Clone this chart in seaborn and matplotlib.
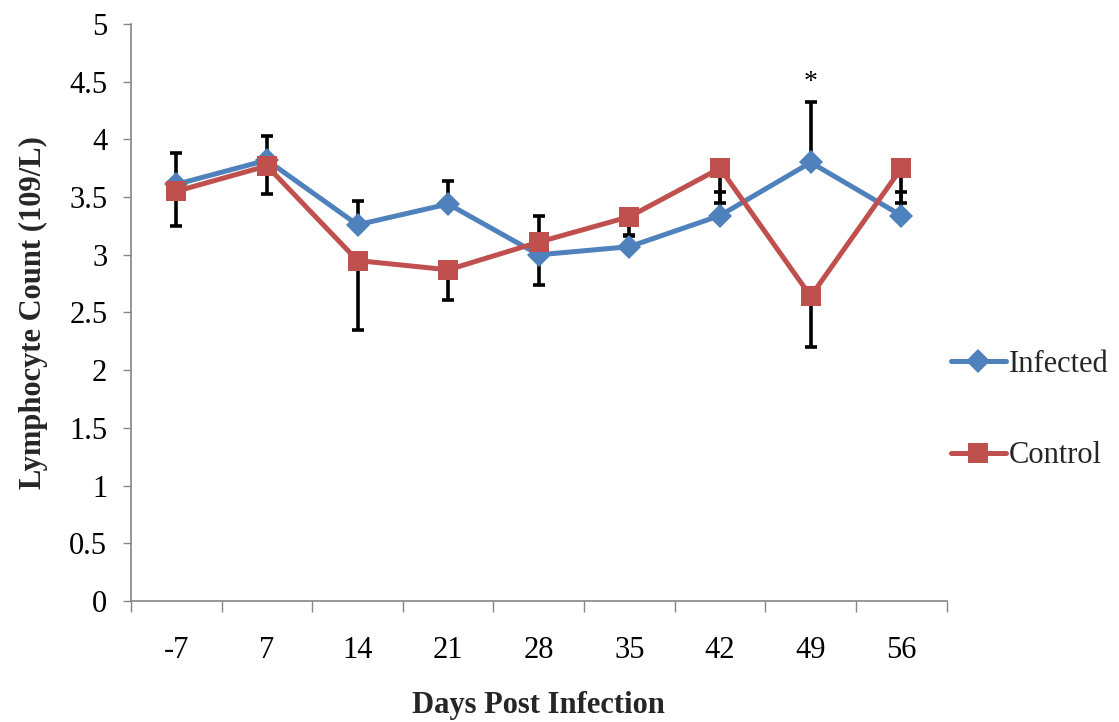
import matplotlib
matplotlib.use("Agg")
import matplotlib.pyplot as plt
import seaborn as sns
import pandas as pd
import numpy as np

days = ["-7", "7", "14", "21", "28", "35", "42", "49", "56"]
infected = [3.61, 3.82, 3.26, 3.44, 3.00, 3.07, 3.34, 3.80, 3.34]
control = [3.55, 3.77, 2.95, 2.87, 3.11, 3.33, 3.75, 2.64, 3.75]
infected_err_plus = [0.27, 0.21, 0.21, 0.20, 0.34, 0.10, 0.20, 0.52, 0.20]
control_err_minus = [0.30, 0.24, 0.60, 0.26, 0.37, 0.17, 0.30, 0.44, 0.30]
sig_days = ["49"]

sns.set_theme(style="white")
plt.rcParams['font.family'] = ['Liberation Serif', 'DejaVu Serif']

blue = "#4F81BD"
red = "#C0504D"
FS = 22

x_idx = np.arange(len(days))
df = pd.DataFrame({
    "x": np.concatenate([x_idx, x_idx]),
    "value": infected + control,
    "series": ["Infected"] * len(days) + ["Control"] * len(days),
})

fig = plt.figure(figsize=(11.19, 7.22), dpi=100)
ax = fig.add_axes([0.117, 0.1676, 0.729, 0.7992])

# error bars (behind lines)
ax.errorbar(x_idx, infected, yerr=[np.zeros(len(days)), infected_err_plus],
            fmt="none", ecolor="black", elinewidth=2.6, capsize=4.5, capthick=2.6, zorder=1)
ax.errorbar(x_idx, control, yerr=[control_err_minus, np.zeros(len(days))],
            fmt="none", ecolor="black", elinewidth=2.6, capsize=4.5, capthick=2.6, zorder=1)

sns.lineplot(data=df, x="x", y="value", hue="series", style="series",
             hue_order=["Infected", "Control"], style_order=["Infected", "Control"],
             palette={"Infected": blue, "Control": red},
             markers={"Infected": "D", "Control": "s"}, dashes=False,
             linewidth=3.6, markersize=12, markeredgewidth=0, sort=False,
             ax=ax, zorder=3)
for line in ax.get_lines():
    if line.get_marker() == "s":
        line.set_markersize(14.5)

for d in sig_days:
    i = days.index(d)
    ax.text(i, infected[i] + infected_err_plus[i] + 0.17, "*", ha="center", va="center",
            fontsize=20, color="black")

ax.set_xlim(-0.5, len(days) - 0.5)
ax.set_ylim(0, 5)
ax.set_yticks(np.arange(0, 5.01, 0.5))
ax.set_yticklabels(["0", "0.5", "1", "1.5", "2", "2.5", "3", "3.5", "4", "4.5", "5"])
ax.set_xticks(x_idx)
ax.set_xticklabels(days)
ax.set_xticks(np.arange(-0.5, len(days), 1.0), minor=True)
ax.tick_params(axis="x", which="major", length=0, pad=25, labelsize=FS, colors="black")
ax.tick_params(axis="x", which="minor", length=8, width=1, color="#868686", direction="out", bottom=True)
ax.tick_params(axis="y", which="major", length=6, width=1, color="#868686", direction="out",
               left=True, pad=11, labelsize=FS, colors="black")
for lab in ax.get_yticklabels():
    lab.set_color("black")

for s in ["top", "right"]:
    ax.spines[s].set_visible(False)
for s in ["left", "bottom"]:
    ax.spines[s].set_color("#868686")
    ax.spines[s].set_linewidth(1.2)

ax.set_xlabel("Days Post Infection", fontsize=FS, fontweight="bold", labelpad=19)
ax.set_ylabel("Lymphocyte Count (109/L)", fontsize=FS, fontweight="bold", labelpad=15)

handles, labels = ax.get_legend_handles_labels()
leg = ax.legend(handles, labels, loc="center left", bbox_to_anchor=(0.836, 0.432),
                bbox_transform=fig.transFigure, frameon=False, fontsize=FS,
                handlelength=1.8, handletextpad=0.1, labelspacing=2.05, borderpad=0)
for h in leg.legend_handles:
    h.set_linewidth(3.6)

fig.savefig("out.png", dpi=100)
